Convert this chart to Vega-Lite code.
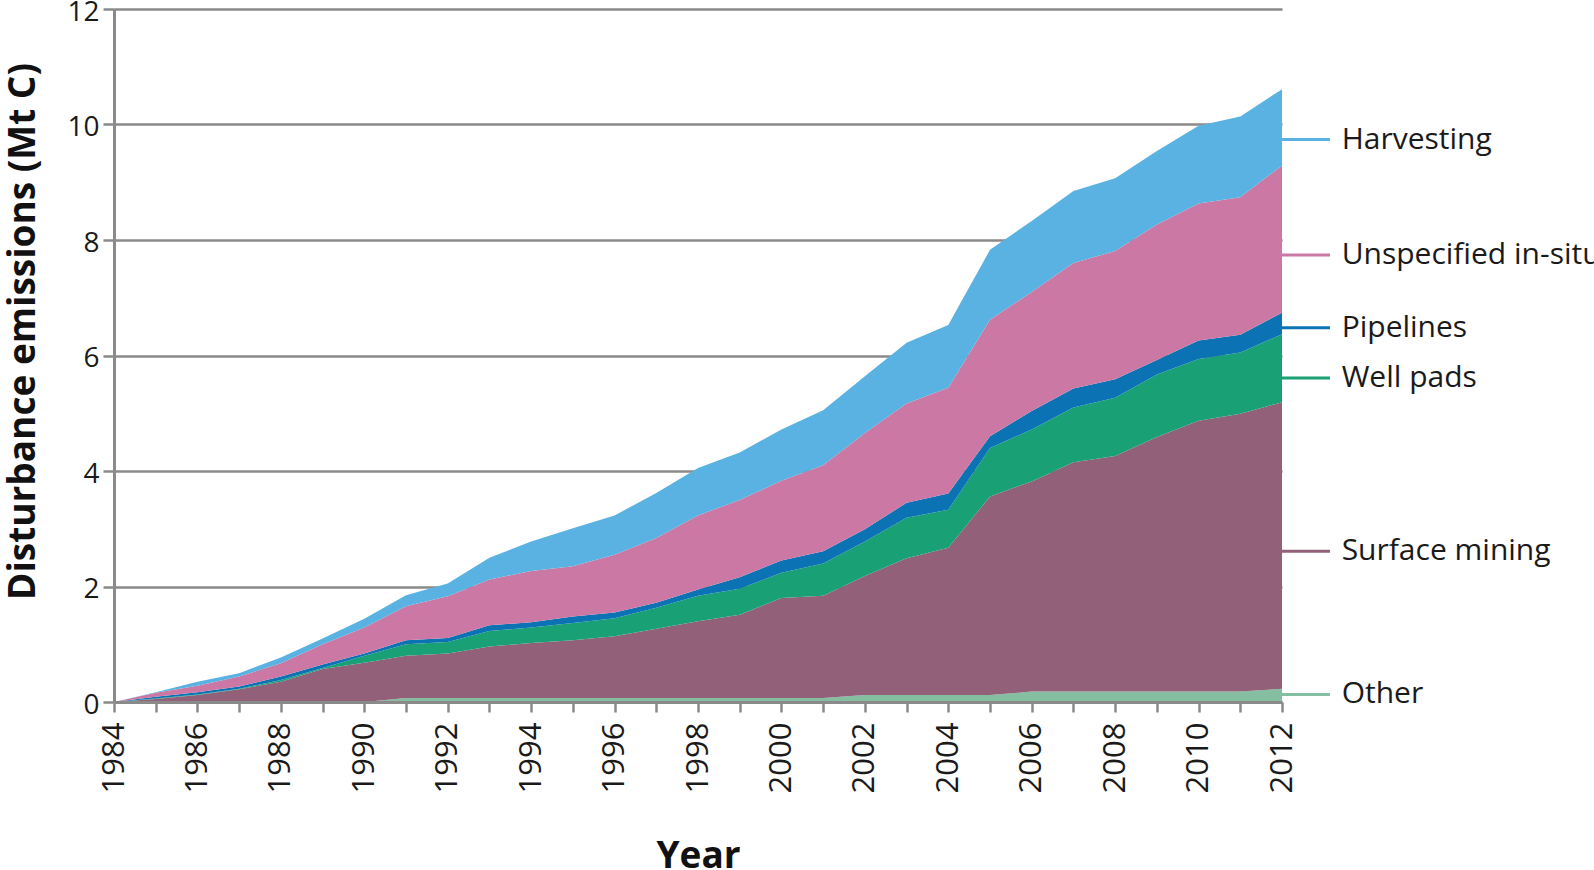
{
  "$schema": "https://vega.github.io/schema/vega-lite/v6.json",
  "width": 1168,
  "height": 693,
  "autosize": {"type": "none"},
  "padding": {"left": 114, "top": 9, "right": 312, "bottom": 168},
  "background": "white",
  "config": {
    "view": {"stroke": null},
    "font": "Open Sans",
    "axis": {"labelFont": "Open Sans", "titleFont": "Open Sans", "labelColor": "#1a1a1a", "titleColor": "#111111"}
  },
  "datasets": {
    "emissions": [
      {"year": 1984, "Other": 0, "Surface mining": 0, "Well pads": 0, "Pipelines": 0, "Unspecified in-situ": 0, "Harvesting": 0},
      {"year": 1985, "Other": 0, "Surface mining": 0.05, "Well pads": 0.01, "Pipelines": 0.03, "Unspecified in-situ": 0.07, "Harvesting": 0.01},
      {"year": 1986, "Other": 0, "Surface mining": 0.12, "Well pads": 0.01, "Pipelines": 0.04, "Unspecified in-situ": 0.11, "Harvesting": 0.07},
      {"year": 1987, "Other": 0, "Surface mining": 0.22, "Well pads": 0.01, "Pipelines": 0.04, "Unspecified in-situ": 0.17, "Harvesting": 0.06},
      {"year": 1988, "Other": 0, "Surface mining": 0.35, "Well pads": 0.03, "Pipelines": 0.06, "Unspecified in-situ": 0.23, "Harvesting": 0.10},
      {"year": 1989, "Other": 0, "Surface mining": 0.57, "Well pads": 0.02, "Pipelines": 0.06, "Unspecified in-situ": 0.35, "Harvesting": 0.10},
      {"year": 1990, "Other": 0, "Surface mining": 0.68, "Well pads": 0.12, "Pipelines": 0.04, "Unspecified in-situ": 0.45, "Harvesting": 0.15},
      {"year": 1991, "Other": 0.07, "Surface mining": 0.73, "Well pads": 0.20, "Pipelines": 0.07, "Unspecified in-situ": 0.59, "Harvesting": 0.19},
      {"year": 1992, "Other": 0.07, "Surface mining": 0.77, "Well pads": 0.20, "Pipelines": 0.07, "Unspecified in-situ": 0.72, "Harvesting": 0.22},
      {"year": 1993, "Other": 0.07, "Surface mining": 0.89, "Well pads": 0.27, "Pipelines": 0.10, "Unspecified in-situ": 0.79, "Harvesting": 0.38},
      {"year": 1994, "Other": 0.07, "Surface mining": 0.95, "Well pads": 0.27, "Pipelines": 0.09, "Unspecified in-situ": 0.89, "Harvesting": 0.51},
      {"year": 1995, "Other": 0.07, "Surface mining": 1.00, "Well pads": 0.30, "Pipelines": 0.11, "Unspecified in-situ": 0.87, "Harvesting": 0.66},
      {"year": 1996, "Other": 0.07, "Surface mining": 1.07, "Well pads": 0.31, "Pipelines": 0.10, "Unspecified in-situ": 1.00, "Harvesting": 0.68},
      {"year": 1997, "Other": 0.07, "Surface mining": 1.20, "Well pads": 0.36, "Pipelines": 0.09, "Unspecified in-situ": 1.12, "Harvesting": 0.78},
      {"year": 1998, "Other": 0.07, "Surface mining": 1.33, "Well pads": 0.44, "Pipelines": 0.11, "Unspecified in-situ": 1.28, "Harvesting": 0.82},
      {"year": 1999, "Other": 0.07, "Surface mining": 1.44, "Well pads": 0.45, "Pipelines": 0.20, "Unspecified in-situ": 1.34, "Harvesting": 0.82},
      {"year": 2000, "Other": 0.07, "Surface mining": 1.73, "Well pads": 0.44, "Pipelines": 0.21, "Unspecified in-situ": 1.38, "Harvesting": 0.89},
      {"year": 2001, "Other": 0.07, "Surface mining": 1.77, "Well pads": 0.56, "Pipelines": 0.21, "Unspecified in-situ": 1.49, "Harvesting": 0.95},
      {"year": 2002, "Other": 0.12, "Surface mining": 2.06, "Well pads": 0.60, "Pipelines": 0.21, "Unspecified in-situ": 1.67, "Harvesting": 0.98},
      {"year": 2003, "Other": 0.12, "Surface mining": 2.37, "Well pads": 0.70, "Pipelines": 0.26, "Unspecified in-situ": 1.72, "Harvesting": 1.05},
      {"year": 2004, "Other": 0.12, "Surface mining": 2.55, "Well pads": 0.66, "Pipelines": 0.28, "Unspecified in-situ": 1.83, "Harvesting": 1.09},
      {"year": 2005, "Other": 0.12, "Surface mining": 3.44, "Well pads": 0.84, "Pipelines": 0.20, "Unspecified in-situ": 2.02, "Harvesting": 1.21},
      {"year": 2006, "Other": 0.18, "Surface mining": 3.64, "Well pads": 0.90, "Pipelines": 0.32, "Unspecified in-situ": 2.06, "Harvesting": 1.23},
      {"year": 2007, "Other": 0.18, "Surface mining": 3.97, "Well pads": 0.95, "Pipelines": 0.33, "Unspecified in-situ": 2.17, "Harvesting": 1.25},
      {"year": 2008, "Other": 0.18, "Surface mining": 4.08, "Well pads": 1.01, "Pipelines": 0.32, "Unspecified in-situ": 2.22, "Harvesting": 1.26},
      {"year": 2009, "Other": 0.18, "Surface mining": 4.41, "Well pads": 1.08, "Pipelines": 0.25, "Unspecified in-situ": 2.35, "Harvesting": 1.27},
      {"year": 2010, "Other": 0.18, "Surface mining": 4.69, "Well pads": 1.07, "Pipelines": 0.32, "Unspecified in-situ": 2.37, "Harvesting": 1.35},
      {"year": 2011, "Other": 0.18, "Surface mining": 4.81, "Well pads": 1.06, "Pipelines": 0.31, "Unspecified in-situ": 2.38, "Harvesting": 1.40},
      {"year": 2012, "Other": 0.23, "Surface mining": 4.96, "Well pads": 1.18, "Pipelines": 0.37, "Unspecified in-situ": 2.55, "Harvesting": 1.32}
    ],
    "labels": [
      {"series": "Harvesting", "labelValue": 9.74},
      {"series": "Unspecified in-situ", "labelValue": 7.74},
      {"series": "Pipelines", "labelValue": 6.48},
      {"series": "Well pads", "labelValue": 5.61},
      {"series": "Surface mining", "labelValue": 2.61},
      {"series": "Other", "labelValue": 0.13}
    ]
  },
  "layer": [
    {
      "data": {"name": "emissions"},
      "transform": [
        {"fold": ["Other", "Surface mining", "Well pads", "Pipelines", "Unspecified in-situ", "Harvesting"], "as": ["series", "value"]},
        {"calculate": "indexof(['Other','Surface mining','Well pads','Pipelines','Unspecified in-situ','Harvesting'], datum.series)", "as": "rank"}
      ],
      "mark": {"type": "area", "opacity": 1, "interpolate": "linear"},
      "encoding": {
        "x": {
          "field": "year", "type": "quantitative",
          "scale": {"domain": [1984, 2012], "nice": false, "zero": false},
          "axis": {
            "values": [1984,1985,1986,1987,1988,1989,1990,1991,1992,1993,1994,1995,1996,1997,1998,1999,2000,2001,2002,2003,2004,2005,2006,2007,2008,2009,2010,2011,2012],
            "labelExpr": "datum.value % 2 == 0 ? datum.value : ''",
            "labelAngle": 270,
            "labelAlign": "right",
            "labelBaseline": "middle",
            "labelFontSize": 31,
            "labelPadding": 10,
            "labelOverlap": false,
            "labelFlush": false,
            "grid": false,
            "tickSize": 10,
            "tickWidth": 2.5,
            "tickColor": "#8a8a8a",
            "domainColor": "#8a8a8a",
            "domainWidth": 3,
            "zindex": 1,
            "title": "Year",
            "titleFontSize": 37,
            "titleFontWeight": "bold",
            "titleBaseline": "alphabetic",
            "titleY": 165,
            "titleX": 584
          }
        },
        "y": {
          "field": "value", "type": "quantitative", "stack": "zero",
          "scale": {"domain": [0, 12], "nice": false},
          "axis": {
            "values": [0, 2, 4, 6, 8, 10, 12],
            "format": "d",
            "labelFontSize": 28,
            "labelPadding": 4,
            "labelOffset": 3,
            "labelFlush": false,
            "tickSize": 11,
            "tickWidth": 2.5,
            "tickColor": "#8a8a8a",
            "domainColor": "#8a8a8a",
            "domainWidth": 3,
            "grid": true,
            "gridColor": "#8a8a8a",
            "gridWidth": 2.5,
            "zindex": 0,
            "title": "Disturbance emissions (Mt C)",
            "titleFontSize": 37,
            "titleFontWeight": "bold",
            "titleAngle": 270,
            "titleAlign": "center",
            "titleBaseline": "middle",
            "titleX": -91,
            "titleY": 322
          }
        },
        "color": {
          "field": "series", "type": "nominal",
          "scale": {
            "domain": ["Other", "Surface mining", "Well pads", "Pipelines", "Unspecified in-situ", "Harvesting"],
            "range": ["#85bea0", "#936079", "#1aa075", "#0b72b4", "#cb78a4", "#5ab2e2"]
          },
          "legend": null
        },
        "order": {"field": "rank", "type": "quantitative", "sort": "ascending"}
      }
    },
    {
      "data": {"name": "labels"},
      "mark": {"type": "rule", "strokeWidth": 3, "clip": false},
      "encoding": {
        "x": {"datum": 2012},
        "x2": {"datum": 2013.15},
        "y": {"field": "labelValue", "type": "quantitative"},
        "color": {"field": "series", "type": "nominal", "legend": null}
      }
    },
    {
      "data": {"name": "labels"},
      "mark": {"type": "text", "align": "left", "baseline": "middle", "font": "Open Sans", "fontSize": 30, "color": "#1a1a1a", "clip": false},
      "encoding": {
        "x": {"datum": 2013.43},
        "y": {"field": "labelValue", "type": "quantitative"},
        "text": {"field": "series", "type": "nominal"}
      }
    }
  ]
}
